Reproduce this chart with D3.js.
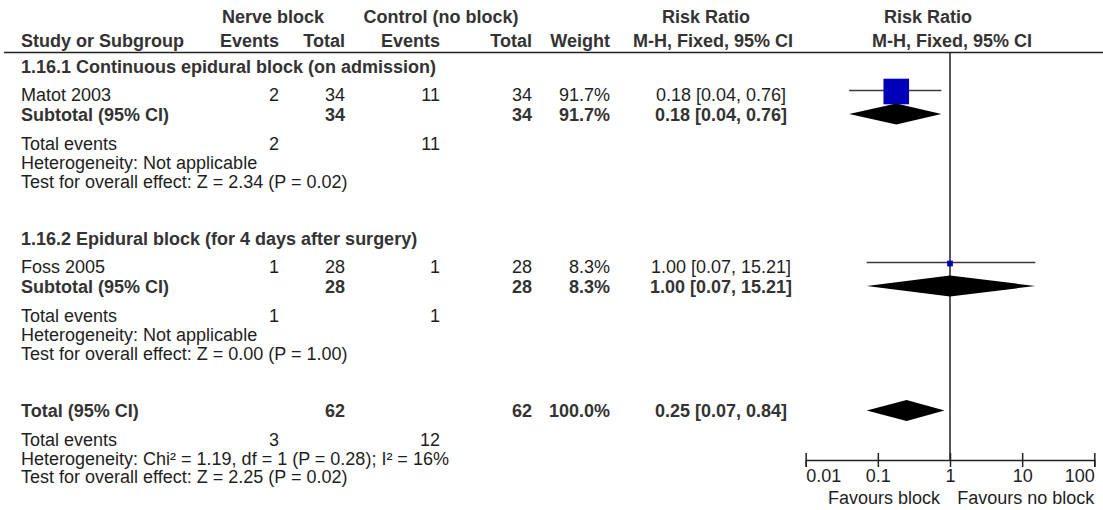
<!DOCTYPE html>
<html><head><meta charset="utf-8">
<script src="https://cdn.jsdelivr.net/npm/d3@7"></script>
<style>
body{margin:0;background:#fff;}
svg text{font-family:"Liberation Sans",Arial,sans-serif;font-size:18px;fill:#1e1e1e;}
svg text.b{font-weight:bold;fill:#333;}
</style></head><body>
<svg id="c" width="1103" height="510"></svg>
<script>
// ---- data ----
const subgroupTitles = ["1.16.1 Continuous epidural block (on admission)", "1.16.2 Epidural block (for 4 days after surgery)"];
const studyNames = ["Matot 2003", "Foss 2005"];
const blockEvents = [2, 1];
const blockTotals = [34, 28];
const ctrlEvents = [11, 1];
const ctrlTotals = [34, 28];
const weights = [91.7, 8.3];
const rr = [0.18, 1.00];
const rrLow = [0.04, 0.07];
const rrHigh = [0.76, 15.21];
const subWeights = [91.7, 8.3];
const subRR = [0.18, 1.00];
const subLow = [0.04, 0.07];
const subHigh = [0.76, 15.21];
const hetTexts = ["Heterogeneity: Not applicable", "Heterogeneity: Not applicable"];
const effectTexts = ["Test for overall effect: Z = 2.34 (P = 0.02)", "Test for overall effect: Z = 0.00 (P = 1.00)"];
const totalBlock = 62, totalCtrl = 62, totalWeight = 100.0;
const totalEventsBlock = 3, totalEventsCtrl = 12;
const totalRR = 0.25, totalLow = 0.07, totalHigh = 0.84;
const totalHet = "Heterogeneity: Chi² = 1.19, df = 1 (P = 0.28); I² = 16%";
const totalEffect = "Test for overall effect: Z = 2.25 (P = 0.02)";
const axisTicks = [0.01, 0.1, 1, 10, 100];
const axisTickLabels = ["0.01", "0.1", "1", "10", "100"];
const favLeft = "Favours block", favRight = "Favours no block";

// ---- layout ----
const svg = d3.select("#c");
const x = d3.scaleLog().domain([0.01, 100]).range([805.7, 1094.3]);
const side = d3.scalePow().exponent(0.625).domain([0, 91.7]).range([0, 25.6]);
const col = {name: 21, bEv: 279, bTot: 345, cEv: 440, cTot: 532, wt: 610, ci: 721};
const fmt2 = d3.format(".2f");
const ciText = (m, l, h) => `${fmt2(m)} [${fmt2(l)}, ${fmt2(h)}]`;
const pct = d3.format(".1f");

function txt(t, xx, y, anchor, bold) {
  svg.append("text").attr("x", xx).attr("y", y).attr("text-anchor", anchor || "start")
    .attr("class", bold ? "b" : null).text(t);
}
function diamond(m, l, h, cy) {
  const hh = 10.5;
  svg.append("path").attr("fill", "#000")
    .attr("d", `M${x(l)},${cy}L${x(m)},${cy - hh}L${x(h)},${cy}L${x(m)},${cy + hh}Z`);
}

// header
txt("Nerve block", 273, 22.5, "middle", true);
txt("Control (no block)", 441, 22.5, "middle", true);
txt("Risk Ratio", 706, 22.5, "middle", true);
txt("Risk Ratio", 928, 22.5, "middle", true);
txt("Study or Subgroup", col.name, 46.5, "start", true);
txt("Events", col.bEv, 46.5, "end", true);
txt("Total", col.bTot, 46.5, "end", true);
txt("Events", col.cEv, 46.5, "end", true);
txt("Total", col.cTot, 46.5, "end", true);
txt("Weight", col.wt, 46.5, "end", true);
txt("M-H, Fixed, 95% CI", 713, 46.5, "middle", true);
txt("M-H, Fixed, 95% CI", 952, 46.5, "middle", true);
svg.append("line").attr("x1", 4).attr("x2", 1103).attr("y1", 52.5).attr("y2", 52.5)
  .attr("stroke", "#222").attr("stroke-width", 1.6);

// vertical line of no effect
svg.append("line").attr("x1", x(1)).attr("x2", x(1)).attr("y1", 53).attr("y2", 460)
  .attr("stroke", "#222").attr("stroke-width", 1.5);

// subgroups
const groupTop = [73, 245];
subgroupTitles.forEach((title, i) => {
  const y0 = groupTop[i];
  txt(title, col.name, y0, "start", true);
  const ys = y0 + 27.5;     // study row baseline
  const yst = ys + 20;      // subtotal baseline
  const yte = yst + 29;     // total events
  txt(studyNames[i], col.name, ys);
  txt(blockEvents[i], col.bEv, ys, "end");
  txt(blockTotals[i], col.bTot, ys, "end");
  txt(ctrlEvents[i], col.cEv, ys, "end");
  txt(ctrlTotals[i], col.cTot, ys, "end");
  txt(pct(weights[i]) + "%", col.wt, ys, "end");
  txt(ciText(rr[i], rrLow[i], rrHigh[i]), col.ci, ys, "middle");
  const cy = ys - 10;
  svg.append("line").attr("x1", x(rrLow[i])).attr("x2", x(rrHigh[i])).attr("y1", cy).attr("y2", cy)
    .attr("stroke", "#3a3a3a").attr("stroke-width", 1.6);
  const s = side(weights[i]);
  svg.append("rect").attr("x", x(rr[i]) - s / 2).attr("y", cy - s / 2 + 1).attr("width", s).attr("height", s)
    .attr("fill", "#0000bb");
  txt("Subtotal (95% CI)", col.name, yst, "start", true);
  txt(blockTotals[i], col.bTot, yst, "end", true);
  txt(ctrlTotals[i], col.cTot, yst, "end", true);
  txt(pct(subWeights[i]) + "%", col.wt, yst, "end", true);
  txt(ciText(subRR[i], subLow[i], subHigh[i]), col.ci, yst, "middle", true);
  diamond(subRR[i], subLow[i], subHigh[i], yst - 6.5);
  txt("Total events", col.name, yte);
  txt(blockEvents[i], col.bEv, yte, "end");
  txt(ctrlEvents[i], col.cEv, yte, "end");
  txt(hetTexts[i], col.name, yte + 19);
  txt(effectTexts[i], col.name, yte + 38);
});

// overall
const yT = 417;
txt("Total (95% CI)", col.name, yT, "start", true);
txt(totalBlock, col.bTot, yT, "end", true);
txt(totalCtrl, col.cTot, yT, "end", true);
txt(pct(totalWeight) + "%", col.wt, yT, "end", true);
txt(ciText(totalRR, totalLow, totalHigh), col.ci, yT, "middle", true);
diamond(totalRR, totalLow, totalHigh, yT - 6.5);
txt("Total events", col.name, yT + 29);
txt(totalEventsBlock, col.bEv, yT + 29, "end");
txt(totalEventsCtrl, col.cEv, yT + 29, "end");
txt(totalHet, col.name, yT + 47.5);
txt(totalEffect, col.name, yT + 66);

// axis
const ax = svg.append("g").attr("transform", "translate(0,460)")
  .call(d3.axisBottom(x).tickValues(axisTicks).tickFormat((d, i) => axisTickLabels[i]).tickSizeOuter(0).tickSize(7).tickPadding(15));
ax.select(".domain").attr("stroke", "#222").attr("stroke-width", 1.5);
ax.selectAll(".tick line").attr("y1", -7).attr("y2", 7).attr("stroke", "#222").attr("stroke-width", 1.5);
ax.selectAll(".tick text").attr("font-size", null).attr("font-family", null).attr("fill", null)
  .attr("dy", null).attr("y", 22)
  .attr("text-anchor", (d, i) => i === 0 ? "start" : (i === axisTicks.length - 1 ? "end" : "middle"));
ax.attr("font-size", null).attr("font-family", null);
txt(favLeft, x(1) - 10, 504, "end");
txt(favRight, x(100), 504, "end");
</script>
</body></html>
